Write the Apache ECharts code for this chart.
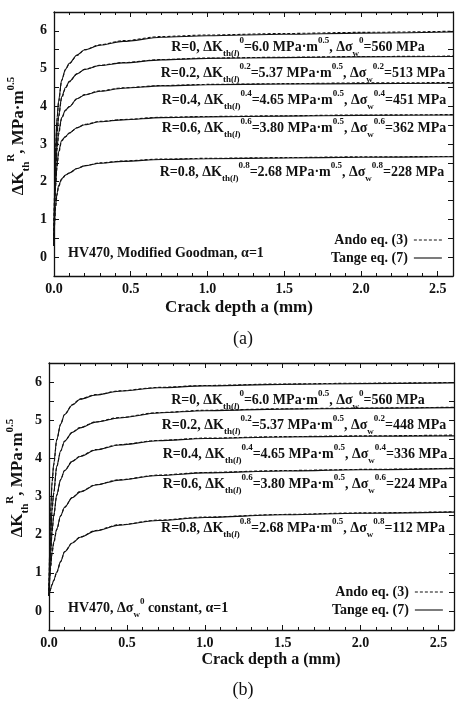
<!DOCTYPE html>
<html>
<head>
<meta charset="utf-8">
<script src="https://cdn.jsdelivr.net/npm/echarts@6/dist/echarts.min.js"></script>
<style>
  html, body { margin: 0; padding: 0; background: #fff; }
  #main { width: 469px; height: 708px; }
</style>
</head>
<body>
<div id="main"></div>
<script>
// crack depth a (mm) where the curves were read
var depth = [0, 0.005, 0.01, 0.02, 0.03, 0.05, 0.075, 0.1, 0.15, 0.2, 0.3, 0.45, 0.7, 1.0, 1.5, 2.0, 2.6];

// (a) HV470, Modified Goodman -- Tange eq. (7)
var tangeA_R00 = [0.3, 2.2, 2.9, 3.7, 4.15, 4.7, 4.98, 5.14, 5.36, 5.5, 5.62, 5.72, 5.83, 5.87, 5.91, 5.94, 5.97];
var tangeA_R02 = [0.3, 2.0, 2.6, 3.3, 3.75, 4.25, 4.5, 4.66, 4.86, 4.98, 5.08, 5.15, 5.23, 5.27, 5.29, 5.31, 5.32];
var tangeA_R04 = [0.3, 1.7, 2.3, 2.9, 3.3, 3.7, 3.9, 3.99, 4.2, 4.3, 4.4, 4.48, 4.54, 4.57, 4.59, 4.6, 4.61];
var tangeA_R06 = [0.3, 1.4, 1.9, 2.45, 2.8, 3.1, 3.2, 3.29, 3.43, 3.51, 3.59, 3.64, 3.7, 3.72, 3.74, 3.76, 3.77];
var tangeA_R08 = [0.3, 1.0, 1.35, 1.7, 1.9, 2.08, 2.18, 2.23, 2.35, 2.42, 2.49, 2.54, 2.59, 2.61, 2.63, 2.65, 2.66];
// (a) Ando eq. (3)
var andoA_R00 = [0.3, 2.1, 2.85, 3.65, 4.1, 4.68, 4.97, 5.13, 5.35, 5.5, 5.63, 5.74, 5.85, 5.89, 5.93, 5.96, 5.99];
var andoA_R02 = [0.3, 1.95, 2.55, 3.25, 3.7, 4.22, 4.48, 4.65, 4.86, 4.98, 5.09, 5.16, 5.24, 5.28, 5.3, 5.32, 5.33];
var andoA_R04 = [0.3, 1.65, 2.25, 2.85, 3.25, 3.68, 3.89, 3.99, 4.2, 4.31, 4.41, 4.49, 4.55, 4.58, 4.6, 4.62, 4.63];
var andoA_R06 = [0.3, 1.35, 1.85, 2.4, 2.75, 3.08, 3.19, 3.29, 3.43, 3.52, 3.6, 3.65, 3.71, 3.73, 3.75, 3.77, 3.78];
var andoA_R08 = [0.3, 0.95, 1.3, 1.65, 1.87, 2.06, 2.17, 2.23, 2.35, 2.43, 2.5, 2.55, 2.6, 2.62, 2.64, 2.66, 2.67];

// (b) HV470, delta sigma_w^0 constant -- Tange eq. (7)
var tangeB_R00 = [0.4, 1.8, 2.6, 3.4, 3.85, 4.5, 4.9, 5.15, 5.4, 5.55, 5.66, 5.76, 5.85, 5.9, 5.94, 5.96, 5.98];
var tangeB_R02 = [0.4, 1.3, 1.9, 2.7, 3.1, 3.8, 4.2, 4.45, 4.68, 4.8, 4.95, 5.06, 5.19, 5.25, 5.29, 5.31, 5.33];
var tangeB_R04 = [0.4, 1.0, 1.5, 2.1, 2.5, 3.05, 3.45, 3.68, 3.92, 4.05, 4.22, 4.35, 4.46, 4.52, 4.56, 4.58, 4.59];
var tangeB_R06 = [0.4, 0.85, 1.15, 1.55, 1.8, 2.15, 2.5, 2.72, 2.97, 3.12, 3.3, 3.43, 3.55, 3.62, 3.67, 3.7, 3.73];
var tangeB_R08 = [0.4, 0.5, 0.58, 0.7, 0.8, 1.02, 1.3, 1.55, 1.78, 1.93, 2.1, 2.25, 2.37, 2.45, 2.52, 2.56, 2.59];
// (b) Ando eq. (3)
var andoB_R00 = [0.4, 1.75, 2.55, 3.35, 3.82, 4.48, 4.9, 5.15, 5.41, 5.56, 5.67, 5.77, 5.86, 5.91, 5.95, 5.97, 5.99];
var andoB_R02 = [0.4, 1.25, 1.85, 2.65, 3.07, 3.78, 4.19, 4.45, 4.69, 4.81, 4.96, 5.07, 5.2, 5.26, 5.3, 5.32, 5.34];
var andoB_R04 = [0.4, 0.97, 1.47, 2.07, 2.47, 3.03, 3.44, 3.68, 3.93, 4.06, 4.23, 4.36, 4.47, 4.53, 4.57, 4.59, 4.61];
var andoB_R06 = [0.4, 0.83, 1.12, 1.52, 1.77, 2.13, 2.49, 2.72, 2.98, 3.13, 3.31, 3.44, 3.56, 3.63, 3.68, 3.71, 3.74];
var andoB_R08 = [0.4, 0.49, 0.57, 0.69, 0.79, 1.01, 1.29, 1.55, 1.79, 1.94, 2.11, 2.26, 2.38, 2.46, 2.53, 2.57, 2.6];

var tangeA = [tangeA_R00, tangeA_R02, tangeA_R04, tangeA_R06, tangeA_R08];
var andoA = [andoA_R00, andoA_R02, andoA_R04, andoA_R06, andoA_R08];
var tangeB = [tangeB_R00, tangeB_R02, tangeB_R04, tangeB_R06, tangeB_R08];
var andoB = [andoB_R00, andoB_R02, andoB_R04, andoB_R06, andoB_R08];

var xTicks = { min: 0, max: 2.6, interval: 0.5 };
var yTicks = { min: -0.5, max: 6.5, interval: 0.5 };

var FONT = '"Liberation Serif", "Times New Roman", serif';
var INK = '#111';

var rich = {
  m: { fontSize: 14, fontWeight: 'bold', fontFamily: FONT, fill: INK, lineHeight: 22 },
  sub: { fontSize: 9, fontWeight: 'bold', fontFamily: FONT, fill: INK, lineHeight: 10, verticalAlign: 'bottom' },
  subi: { fontSize: 9, fontWeight: 'bold', fontStyle: 'italic', fontFamily: FONT, fill: INK, lineHeight: 10, verticalAlign: 'bottom' },
  sup: { fontSize: 9, fontWeight: 'bold', fontFamily: FONT, fill: INK, lineHeight: 10, verticalAlign: 'top' }
};

function zip(ys) {
  return depth.map(function (x, i) { return [x, ys[i]]; });
}

function label(r, dk, ds) {
  return '{m|R=' + r + ', ΔK}{sub|th(}{subi|l}{sub|)}{sup|' + r + '}{m|=' + dk +
    ' MPa·m}{sup|0.5}{m|, Δσ}{sub|w}{sup|' + r + '}{m|=' + ds + ' MPa}';
}

function text(x, y, str, align, extra) {
  var st = { text: str, x: 0, y: 0, align: align || 'center', verticalAlign: 'middle', rich: rich, fill: INK };
  if (extra) Object.assign(st, extra);
  return { type: 'text', x: x, y: y, style: st, silent: true };
}

var chart = echarts.init(document.getElementById('main'));

var grids = [
  { left: 54, right: 16, top: 12, height: 264 },
  { left: 49, right: 15, top: 363, height: 267 }
];

function xAxes(g) {
  var base = {
    type: 'value', gridIndex: g, min: xTicks.min, max: xTicks.max, interval: xTicks.interval,
    axisLine: { show: true, onZero: false, lineStyle: { color: INK, width: 1.3 } },
    axisTick: { inside: true, length: 5, lineStyle: { color: INK } },
    minorTick: { show: true, splitNumber: 5, length: 3, lineStyle: { color: INK } },
    splitLine: { show: false }
  };
  var bottom = Object.assign({}, base, {
    position: 'bottom',
    axisLabel: {
      margin: 6, color: INK, fontFamily: FONT, fontWeight: 'bold', fontSize: 14,
      formatter: function (v) { return v.toFixed(1); }
    }
  });
  var top = Object.assign({}, base, { position: 'top', axisLabel: { show: false } });
  return [bottom, top];
}

function yAxes(g) {
  var base = {
    type: 'value', gridIndex: g, min: yTicks.min, max: yTicks.max, interval: yTicks.interval,
    axisLine: { show: true, onZero: false, lineStyle: { color: INK, width: 1.3 } },
    axisTick: { inside: true, length: 5, lineStyle: { color: INK } },
    splitLine: { show: false }
  };
  var left = Object.assign({}, base, {
    position: 'left',
    axisLabel: {
      margin: 7, color: INK, fontFamily: FONT, fontWeight: 'bold', fontSize: 14,
      formatter: function (v) { return Math.abs(v % 1) < 1e-9 ? String(v) : ''; }
    }
  });
  var right = Object.assign({}, base, { position: 'right', axisLabel: { show: false } });
  return [left, right];
}

var series = [];
function addCurves(g, ando, tange) {
  ando.forEach(function (ys) {
    series.push({
      name: 'Ando eq. (3)', type: 'line', xAxisIndex: g * 2, yAxisIndex: g * 2,
      data: zip(ys), symbol: 'none', smooth: 0.3, smoothMonotone: 'x', color: INK,
      lineStyle: { color: INK, width: 1.1, type: [3, 2] }, z: 2
    });
  });
  tange.forEach(function (ys) {
    series.push({
      name: 'Tange eq. (7)', type: 'line', xAxisIndex: g * 2, yAxisIndex: g * 2,
      data: zip(ys), symbol: 'none', smooth: 0.3, smoothMonotone: 'x', color: INK,
      lineStyle: { color: INK, width: 1.1, type: 'solid' }, z: 3
    });
  });
}
addCurves(0, andoA, tangeA);
addCurves(1, andoB, tangeB);

var legendBase = {
  orient: 'vertical', align: 'right', itemWidth: 28, itemHeight: 14, itemGap: 4,
  selectedMode: false, padding: 0,
  itemStyle: { color: 'transparent', borderWidth: 0 },
  lineStyle: { color: INK, width: 1.1 },
  data: ['Ando eq. (3)', 'Tange eq. (7)'],
  textStyle: { color: INK, fontFamily: FONT, fontWeight: 'bold', fontSize: 14, padding: [0, 1, 0, 0] }
};

var yTitle = '{yt|ΔK}{ysub|th}{ysup|R}{yt|, MPa·m}{ysup|0.5}';
var yRich = {
  yt: { fontSize: 17, fontWeight: 'bold', fontFamily: FONT, fill: INK, lineHeight: 26 },
  ysub: { fontSize: 11, fontWeight: 'bold', fontFamily: FONT, fill: INK, lineHeight: 12, verticalAlign: 'bottom' },
  ysup: { fontSize: 11, fontWeight: 'bold', fontFamily: FONT, fill: INK, lineHeight: 12, verticalAlign: 'top' }
};

var graphics = [
  // panel (a) annotations
  text(298, 47, label('0', '6.0', '560')),
  text(303, 73, label('0.2', '5.37', '513')),
  text(304, 100, label('0.4', '4.65', '451')),
  text(304, 128, label('0.6', '3.80', '362')),
  text(302, 172, label('0.8', '2.68', '228')),
  text(68, 253, '{m|HV470, Modified Goodman, α=1}', 'left'),
  // panel (b) annotations
  text(298, 400, label('0', '6.0', '560')),
  text(304, 425, label('0.2', '5.37', '448')),
  text(305, 454, label('0.4', '4.65', '336')),
  text(305, 484, label('0.6', '3.80', '224')),
  text(303, 528, label('0.8', '2.68', '112')),
  text(68, 608, '{m|HV470, Δσ}{sub|w}{sup|0}{m| constant, α=1}', 'left'),
  // axis titles
  text(239, 308, 'Crack depth a (mm)', 'center', { rich: null, font: 'bold 17px ' + FONT }),
  text(271, 660, 'Crack depth a (mm)', 'center', { rich: null, font: 'bold 16px ' + FONT }),
  { type: 'text', x: 19, y: 136, rotation: Math.PI / 2, silent: true,
    style: { text: yTitle, rich: yRich, align: 'center', verticalAlign: 'middle', fill: INK } },
  { type: 'text', x: 18, y: 478, rotation: Math.PI / 2, silent: true,
    style: { text: yTitle, rich: yRich, align: 'center', verticalAlign: 'middle', fill: INK } },
  // captions
  text(243, 339, '(a)', 'center', { rich: null, font: '18px ' + FONT }),
  text(243, 690, '(b)', 'center', { rich: null, font: '18px ' + FONT })
];

chart.setOption({
  animation: false,
  backgroundColor: '#fff',
  textStyle: { fontFamily: FONT },
  grid: grids,
  xAxis: xAxes(0).concat(xAxes(1)),
  yAxis: yAxes(0).concat(yAxes(1)),
  legend: [
    Object.assign({}, legendBase, { left: 331, top: 233 }),
    Object.assign({}, legendBase, { left: 332, top: 585 })
  ],
  series: series,
  graphic: graphics
});
</script>
</body>
</html>
